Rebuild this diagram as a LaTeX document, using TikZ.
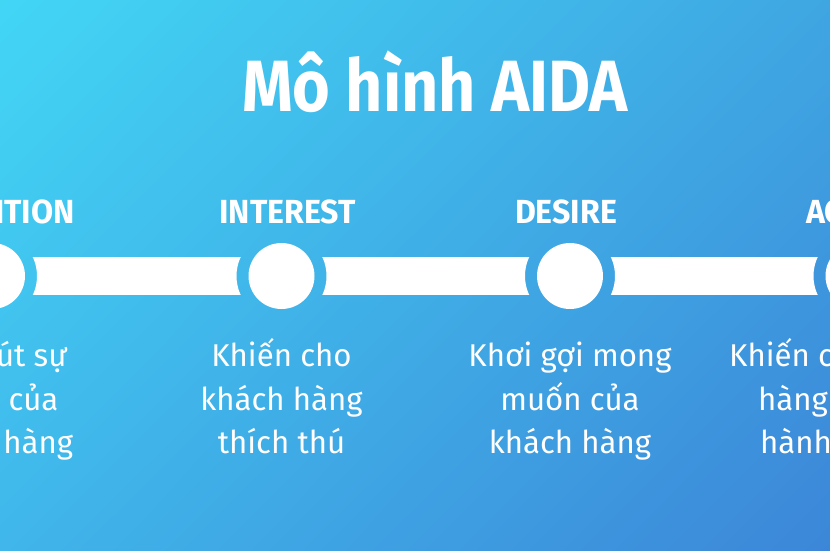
\documentclass[tikz,border=0pt]{standalone}
\usepackage{fontspec}
\usetikzlibrary{shadings,calc}
\setmainfont{Fira Sans}
\newfontfamily\titlefont{Fira Sans}[FakeStretch=0.89]
\newfontfamily\headfont{Fira Sans}[FakeStretch=0.96]
\newfontfamily\descfont{Fira Sans}[FakeStretch=0.99]
\definecolor{bgTL}{HTML}{42D6F5}
\definecolor{bgTR}{HTML}{3FA6E2}
\definecolor{bgBL}{HTML}{40B6EA}
\definecolor{bgBR}{HTML}{3C86D8}
\tikzset{
  dot/.style={circle, fill=white, minimum size=66pt, inner sep=0pt},
  headtext/.style={text=white, font=\headfont\bfseries\fontsize{33.4}{36}\selectfont, inner sep=0pt},
  desctext/.style={text=white, font=\descfont\fontsize{31.5}{43.5}\selectfont, inner sep=0pt, align=center},
  titletext/.style={text=white, font=\titlefont\bfseries\fontsize{72.6}{80}\selectfont, inner sep=0pt}
}
\begin{document}
\begin{tikzpicture}[x=1pt,y=-1pt]
\useasboundingbox (0,0) rectangle (830,550);
\clip (0,0) rectangle (830,550);
\shade[upper left=bgTL, upper right=bgTR, lower left=bgBL, lower right=bgBR] (0,0) rectangle (830,550);

\node[titletext, anchor=base] (title) at (435,111.7) {Mô hình AIDA};

% circles
\node[dot] (cA) at (-8,276) {};
\node[dot] (cI) at (281.5,276) {};
\node[dot] (cD) at (570,276) {};
\node[dot] (cX) at (858.5,276) {};

% bars with concave ends
\begin{scope}[even odd rule]
  \clip (-100,-100) rectangle (1000,700)
     (cA.center) circle (45) (cI.center) circle (45)
     (cD.center) circle (45) (cX.center) circle (45);
  \fill[white] ($(cA.center)+(0,-19)$) rectangle ($(cI.center)+(0,19)$);
  \fill[white] ($(cI.center)+(0,-19)$) rectangle ($(cD.center)+(0,19)$);
  \fill[white] ($(cD.center)+(0,-19)$) rectangle ($(cX.center)+(0,19)$);
\end{scope}

% headings
\node[headtext, anchor=base east] (hA) at (75,223.3) {ATTENTION};
\node[headtext, anchor=base] (hI) at (287.5,223.3) {INTEREST};
\node[headtext, anchor=base] (hD) at (566,223.3) {DESIRE};
\node[headtext, anchor=base west] (hX) at (806,223.3) {ACTION};

% descriptions (base anchor = baseline of last line)
\node[desctext, anchor=base] (dA) at (-8,453.7) {Thu hút sự\\chú ý của\\khách hàng};
\node[desctext, anchor=base] (dI) at (281.5,453.7) {Khiến cho\\khách hàng\\thích thú};
\node[desctext, anchor=base] (dD) at (570,453.7) {Khơi gợi mong\\muốn của\\khách hàng};
\node[desctext, anchor=base west] (dX1) at (729,366.7) {Khiến cho khách};
\node[desctext, anchor=base west] (dX2) at (758,410.2) {hàng thực hiện};
\node[desctext, anchor=base west] (dX3) at (760,453.7) {hành động};
\end{tikzpicture}
\end{document}
